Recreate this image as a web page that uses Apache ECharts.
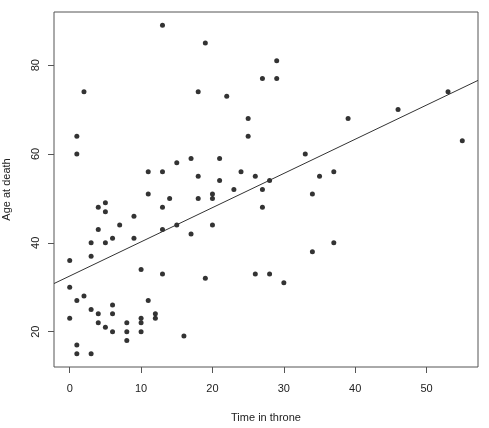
<!DOCTYPE html>
<html>
<head>
<meta charset="utf-8">
<script src="https://cdn.jsdelivr.net/npm/echarts@6/dist/echarts.min.js"></script>
<style>
  html, body { margin: 0; padding: 0; background: #fff; }
  #plot { width: 489px; height: 428px; }
</style>
</head>
<body>
<div id="plot"></div>
<script>
// years on the throne and age at death, one entry per monarch
const timeInThrone = [
  13, 19, 2, 18, 22, 25, 25, 1, 1, 17, 21, 15, 11, 13, 24, 18, 21, 23, 11, 20, 14, 18, 20,
  28, 27, 5, 4, 13, 27, 5, 9, 7, 15, 20, 4, 13, 17, 6, 9, 3, 5, 3, 0, 10, 13, 26, 28, 19, 30,
  0, 2, 1, 11, 6, 3, 4, 6, 12, 12, 0, 10, 4, 8, 10, 5, 6, 8, 10, 16, 8, 1, 1, 3,
  29, 27, 29, 39, 46, 53, 55, 33, 26, 35, 37, 34, 37, 34
];
const ageAtDeath = [
  89, 85, 74, 74, 73, 68, 64, 64, 60, 59, 59, 58, 56, 56, 56, 55, 54, 52, 51, 51, 50, 50, 50,
  54, 52, 49, 48, 48, 48, 47, 46, 44, 44, 44, 43, 43, 42, 41, 41, 40, 40, 37, 36, 34, 33, 33, 33, 32, 31,
  30, 28, 27, 27, 26, 25, 24, 24, 24, 23, 23, 23, 22, 22, 22, 21, 20, 20, 20, 19, 18, 17, 15, 15,
  81, 77, 77, 68, 70, 74, 63, 60, 55, 55, 56, 51, 40, 38
];
const xTicks = [0, 10, 20, 30, 40, 50];
const yTicks = [20, 40, 60, 80];

// least squares fit, like abline(lm(age ~ time))
const n = timeInThrone.length;
const mx = timeInThrone.reduce((a, b) => a + b, 0) / n;
const my = ageAtDeath.reduce((a, b) => a + b, 0) / n;
let sxy = 0, sxx = 0;
for (let i = 0; i < n; i++) {
  sxy += (timeInThrone[i] - mx) * (ageAtDeath[i] - my);
  sxx += (timeInThrone[i] - mx) ** 2;
}
const slope = sxy / sxx;
const intercept = my - slope * mx;

// R pads the data range by 4% on each side
function padded(v) {
  const lo = Math.min(...v), hi = Math.max(...v);
  const d = (hi - lo) * 0.04;
  return [lo - d, hi + d];
}
const [xMin, xMax] = padded(timeInThrone);
const [yMin, yMax] = padded(ageAtDeath);

const points = timeInThrone.map((t, i) => [t, ageAtDeath[i]]);
const fitLine = [[xMin, intercept + slope * xMin], [xMax, intercept + slope * xMax]];

const chart = echarts.init(document.getElementById("plot"));
const textStyle = { color: "#222", fontFamily: "Liberation Sans, Arial, sans-serif", fontSize: 11 };

chart.setOption({
  animation: false,
  grid: {
    left: 54, right: 11, top: 12, bottom: 61,
    outerBoundsMode: "none",
    show: true, borderColor: "#555", borderWidth: 1, backgroundColor: "#fff"
  },
  xAxis: {
    type: "value", min: xMin, max: xMax,
    name: "Time in throne", nameLocation: "middle", nameGap: 45,
    nameTextStyle: textStyle,
    axisLine: { show: false, onZero: false },
    splitLine: { show: false },
    axisTick: { show: true, customValues: xTicks, length: 6, lineStyle: { color: "#555" } },
    axisLabel: { customValues: xTicks, margin: 16, ...textStyle }
  },
  yAxis: {
    type: "value", min: yMin, max: yMax,
    name: "Age at death", nameLocation: "middle", nameGap: 42,
    nameTextStyle: textStyle,
    axisLine: { show: false, onZero: false },
    splitLine: { show: false },
    axisTick: { show: true, customValues: yTicks, length: 6, lineStyle: { color: "#555" } },
    axisLabel: { customValues: yTicks, rotate: 90, margin: 13, ...textStyle }
  },
  series: [
    {
      type: "scatter",
      data: points,
      symbol: "circle",
      symbolSize: 5,
      itemStyle: { color: "#000" }
    },
    {
      type: "line",
      data: fitLine,
      showSymbol: false,
      symbol: "none",
      lineStyle: { color: "#333", width: 1 },
      silent: true
    }
  ]
});
</script>
</body>
</html>
